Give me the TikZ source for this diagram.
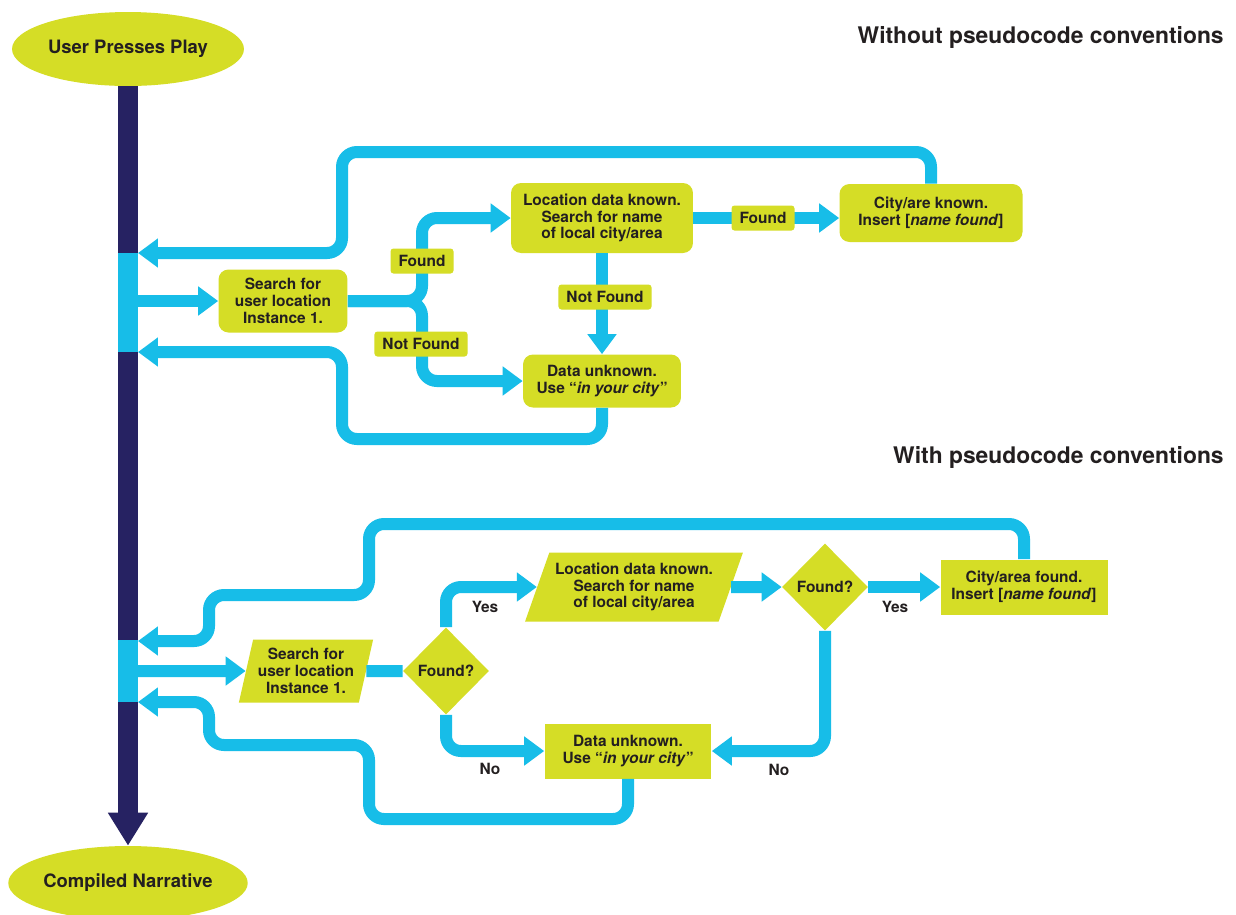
\documentclass[tikz,border=0pt]{standalone}
\usepackage{fontspec}
\setmainfont{TeX Gyre Heros}
\usetikzlibrary{arrows.meta, shapes.geometric}
\definecolor{FlowLime}{HTML}{D5DD26}
\definecolor{FlowCyan}{HTML}{17BDE8}
\definecolor{FlowNavy}{HTML}{262262}
\definecolor{FlowInk}{HTML}{231F20}

\begin{document}
\begin{tikzpicture}[x=0.02cm, y=-0.02cm,
  every node/.style={text=FlowInk, align=center, font=\fontsize{8.8}{9.6}\selectfont\bfseries},
  endpoint/.style={ellipse, fill=FlowLime, inner sep=0pt, minimum width=4.64cm, minimum height=1.48cm,
    font=\fontsize{10.5}{12}\selectfont\bfseries},
  roundbox/.style={rectangle, rounded corners=0.2cm, fill=FlowLime, inner sep=0pt},
  sharpbox/.style={rectangle, fill=FlowLime, inner sep=0pt, minimum width=3.34cm, minimum height=1.1cm},
  slantbox/.style={trapezium, trapezium stretches=true, fill=FlowLime, inner sep=0pt},
  decision/.style={diamond, aspect=1, fill=FlowLime, inner sep=0pt, minimum width=1.72cm, minimum height=1.74cm},
  flowtag/.style={rectangle, rounded corners=0.06cm, fill=FlowLime, inner xsep=0.16cm, inner ysep=0pt, minimum height=0.5cm},
  flow/.style={draw=FlowCyan, line width=0.24cm, rounded corners=0.3cm},
  flowhead/.style={-{Triangle[width=0.56cm, length=0.4cm]}},
  heading/.style={anchor=east, inner sep=0pt, font=\fontsize{13}{15}\selectfont\bfseries}
]
  \path[fill=white, use as bounding box] (0,0) rectangle (1236,914);

  % Main line: start and end
  \node[endpoint] (play) at (128,49) {User Presses Play};
  \node[endpoint] (narr) at (128,883) {Compiled Narrative};
  \draw[FlowNavy, line width=0.4cm, -{Triangle[width=0.76cm, length=0.66cm]}] (play.south) -- (narr.north);
  \fill[FlowCyan] (118,253) rectangle (138,352);
  \fill[FlowCyan] (118,640) rectangle (138,702);
  \coordinate (backA) at (138,253);
  \coordinate (outA) at (138,301);
  \coordinate (backB) at (138,352);
  \coordinate (backC) at (138,641);
  \coordinate (outB) at (138,671);
  \coordinate (backD) at (138,702);

  \node[heading] (titleA) at (1224,37) {Without pseudocode conventions};
  \node[heading] (titleB) at (1224,457) {With pseudocode conventions};

  % Upper chart: without pseudocode conventions
  \node[roundbox, minimum width=2.58cm, minimum height=1.26cm] (search1) at (283,301)
    {Search for\\user location\\Instance 1.};
  \node[roundbox, minimum width=3.64cm, minimum height=1.4cm] (loc1) at (602,218)
    {Location data known.\\Search for name\\of local city/area};
  \node[roundbox, minimum width=3.66cm, minimum height=1.16cm] (city1) at (931,213)
    {City/are known.\\Insert [\textit{name found}]};
  \node[roundbox, minimum width=3.16cm, minimum height=1.06cm] (unk1) at (602,381)
    {Data unknown.\\Use “\textit{in your city}”};

  \draw[flow, flowhead] (outA) -- (search1.west);
  \draw[flow, flowhead] (search1.east) -| (422,218) -- (loc1.west);
  \draw[flow, flowhead] (search1.east) -| (422,381) -- (unk1.west);
  \draw[flow, flowhead] (loc1.east) -- (loc1.east -| city1.west);
  \draw[flow, flowhead] (loc1.south) -- (unk1.north);
  \draw[flow, flowhead] (city1.north) |- (342,152) |- (backA);
  \draw[flow, flowhead] (unk1.south) |- (342,439) |- (backB);

  \node[flowtag] (foundA) at (422,261) {Found};
  \node[flowtag] (missA) at (421,344) {Not Found};
  \node[flowtag] (foundB) at (763,218) {Found};
  \node[flowtag] (missB) at (605,297) {Not Found};

  % Lower chart: with pseudocode conventions
  \node[slantbox, trapezium left angle=74, trapezium right angle=106,
    minimum width=2.7cm, minimum height=1.26cm] (search2) at (306,671)
    {Search for\\user location\\Instance 1.};
  \node[decision] (dia1) at (446,671) {Found?};
  \node[slantbox, trapezium left angle=65, trapezium right angle=115,
    minimum width=4.36cm, minimum height=1.38cm] (loc2) at (634,587)
    {Location data known.\\Search for name\\of local city/area};
  \node[decision] (dia2) at (825,587) {Found?};
  \node[sharpbox] (city2) at (1024,587)
    {City/area found.\\Insert [\textit{name found}]};
  \node[sharpbox] (unk2) at (628,751)
    {Data unknown.\\Use “\textit{in your city}”};

  \draw[flow, flowhead] (outB) -- (search2.west);
  \draw[flow] (search2.east) -- (dia1.west);
  \draw[flow, flowhead] (dia1.north) |- (loc2.west);
  \draw[flow, flowhead] (dia1.south) |- (unk2.west);
  \draw[flow, flowhead] (loc2.east) -- (dia2.west);
  \draw[flow, flowhead] (dia2.east) -- (city2.west);
  \draw[flow, flowhead] (dia2.south) |- (unk2.east);
  \draw[flow, flowhead] (city2.north) |- (369,524) |- (209,595) |- (backC);
  \draw[flow, flowhead] (unk2.south) |- (369,819) |- (209,745) |- (backD);

  \node (yesA) at (485,607) {Yes};
  \node (noA) at (490,769) {No};
  \node (yesB) at (895,607) {Yes};
  \node (noB) at (779,770) {No};
\end{tikzpicture}
\end{document}
